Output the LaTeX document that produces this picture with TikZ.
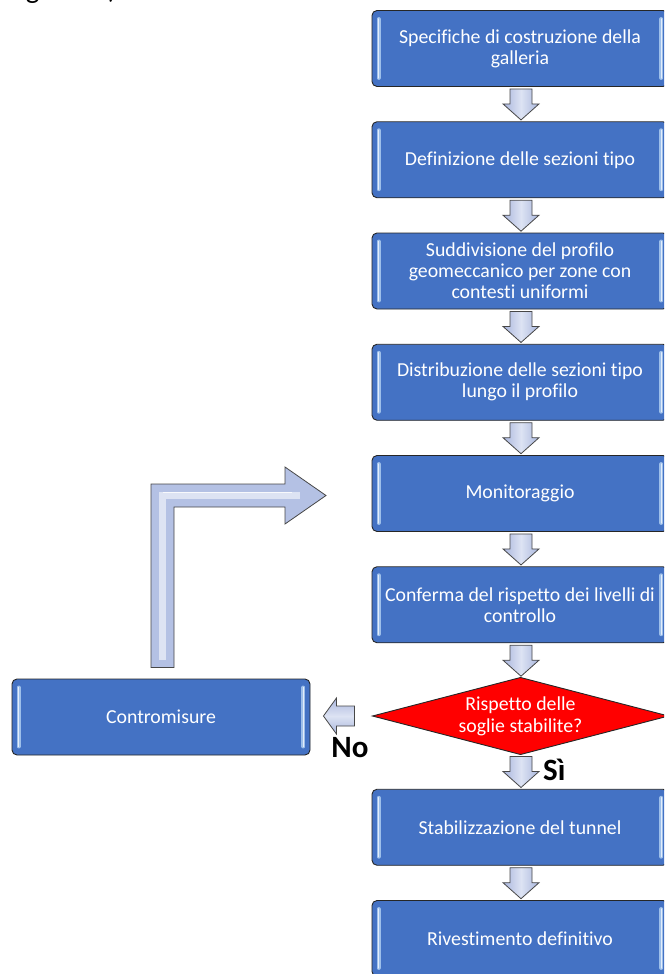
\documentclass[tikz,border=0pt]{standalone}
\usepackage{fontspec}
\setmainfont[Ligatures=NoCommon]{Carlito}
\usetikzlibrary{calc}
\definecolor{boxblue}{HTML}{4472C4}
\definecolor{edgegray}{HTML}{262626}
\definecolor{arrowedge}{HTML}{A9B6DD}
\definecolor{arrowmid}{HTML}{DDE3F3}
\definecolor{arrowfill}{HTML}{B4C1E4}
\definecolor{hilite}{HTML}{9DBFEA}
\definecolor{hilitecore}{HTML}{E3EDFA}
\definecolor{dred}{HTML}{FF0000}
\newcommand\boxhl[1]{%
  \draw[hilite, line width=4pt, line cap=round] ($(#1.north west)+(7,9)$) -- ($(#1.south west)+(7,-9)$);
  \draw[hilitecore, line width=1.5pt, line cap=round] ($(#1.north west)+(7,9)$) -- ($(#1.south west)+(7,-9)$);
  \draw[hilite, line width=4pt, line cap=round] ($(#1.north east)+(-7,9)$) -- ($(#1.south east)+(-7,-9)$);
  \draw[hilitecore, line width=1.5pt, line cap=round] ($(#1.north east)+(-7,9)$) -- ($(#1.south east)+(-7,-9)$);}
\begin{document}
\begin{tikzpicture}[x=1pt,y=-1pt,
  stepbox/.style={draw=edgegray, line width=0.9pt, fill=boxblue, rounded corners=5pt,
    minimum width=296pt, minimum height=76pt, text=white, align=center,
    font=\fontsize{19.8}{21}\selectfont, inner sep=0pt},
  arrowstyle/.style={draw=edgegray!85, line width=0.8pt, line join=miter},
  darrow/.pic={\draw[arrowstyle, left color=arrowedge, right color=arrowedge, middle color=arrowmid]
    (-11,0) -- (-11,15) -- (-18,15) -- (0,31) -- (18,15) -- (11,15) -- (11,0) -- cycle;},
  boldlabel/.style={font=\fontsize{31}{31}\selectfont\bfseries, inner sep=0pt}
]
\clip (0,0) rectangle (664,974);
\useasboundingbox (0,0) rectangle (664,974);

\node[anchor=base west, font=\fontsize{29}{30}\selectfont, inner sep=0pt] (seg) at (0,-1) {seguente)};

\node[stepbox] (b1) at (520,48.5) {Specifiche di costruzione della\\galleria};
\node[stepbox] (b2) at (520,159.75) {Definizione delle sezioni tipo};
\node[stepbox] (b3) at (520,271) {Suddivisione del profilo\\geomeccanico per zone con\\contesti uniformi};
\node[stepbox] (b4) at (520,382.25) {Distribuzione delle sezioni tipo\\lungo il profilo};
\node[stepbox] (b5) at (520,493.5) {Monitoraggio};
\node[stepbox] (b6) at (520,604.75) {Conferma del rispetto dei livelli di\\controllo};
\node[stepbox] (b7) at (520,827.25) {Stabilizzazione del tunnel};
\node[stepbox] (b8) at (520,938.5) {Rivestimento definitivo};
\node[stepbox, minimum width=298pt] (c) at (161,717) {Contromisure};
\foreach \b in {b1,b2,b3,b4,b5,b6,b7,b8,c} {\boxhl{\b}}

% decision diamond
\coordinate (dc) at (520.5,716);
\draw[draw=edgegray, line width=0.9pt, fill=dred, line join=miter]
  ($(dc)+(-148,0)$) -- ($(dc)+(0,-38.5)$) -- ($(dc)+(148,0)$) -- ($(dc)+(0,38.5)$) -- cycle;
\node[text=white, align=center, font=\fontsize{19.8}{22}\selectfont, inner sep=0pt] (d) at (dc)
  {Rispetto delle\\soglie stabilite?};

% down arrows
\pic at ($(b1.south)+(1,2)$) {darrow};
\pic at ($(b2.south)+(1,2)$) {darrow};
\pic at ($(b3.south)+(1,2)$) {darrow};
\pic at ($(b4.south)+(1,2)$) {darrow};
\pic at ($(b5.south)+(1,2)$) {darrow};
\pic at ($(b6.south)+(1,2)$) {darrow};
\pic at ($(dc)+(0.5,40.5)$) {darrow};
\pic at ($(b7.south)+(1,2)$) {darrow};

% left arrow (No)
\coordinate (la) at ($(c.east)+(13,-1)$);
\draw[arrowstyle, top color=arrowedge, bottom color=arrowedge, middle color=arrowmid]
  (la) -- ++(13,-18) -- ++(0,8) -- ++(18,0) -- ++(0,20) -- ++(-18,0) -- ++(0,8) -- cycle;

% bent arrow back to Monitoraggio
\coordinate (bb) at ($(c.north)+(1.5,-11)$);
\draw[arrowstyle, fill=arrowfill]
  ($(bb)+(-11.5,0)$) -- (151,484) -- (285,484) -- (285,467) -- (326,495.5)
  -- (285,524) -- (285,507) -- (174,507) -- ($(bb)+(11.5,0)$) -- cycle;
\draw[arrowmid, line width=7pt, line join=miter] ($(bb)+(0,-8)$) -- (162.5,495.5) -- (300,495.5);
\draw[white, line width=1.5pt, opacity=0.8] (162.5,492.5) -- (292,492.5);

% labels
\node[boldlabel, anchor=base] (no) at (350,757) {No};
\node[boldlabel, anchor=base west] (si) at (543,780) {Sì};
\end{tikzpicture}
\end{document}
